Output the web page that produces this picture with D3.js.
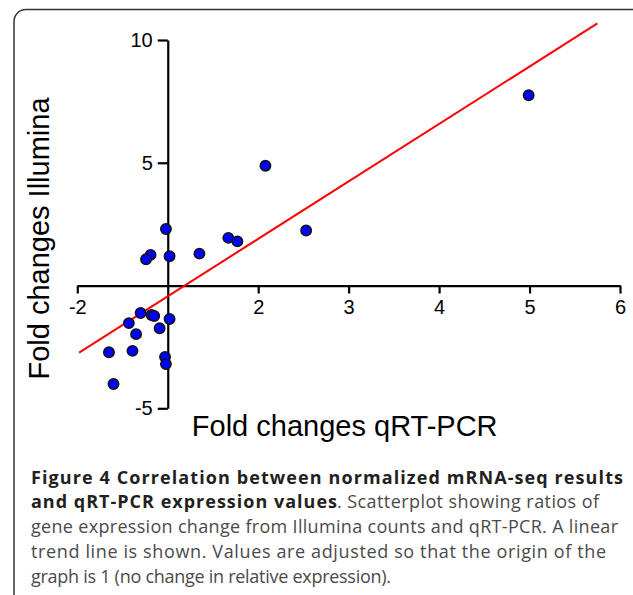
<!DOCTYPE html>
<html>
<head>
<meta charset="utf-8">
<script src="https://cdn.jsdelivr.net/npm/d3@7"></script>
<style>
  html, body { margin: 0; padding: 0; background: #fff; }
  svg { display: block; }
</style>
</head>
<body>
<svg id="chart" width="633" height="595"></svg>
<script>
// ---- Data (adjusted values; origin = no change) ----
const qrtpcr   = [-0.02, 1.53, 0.67, 0.77, -0.19, -0.24, 0.02, 0.35, 1.08, 3.99,
                  -0.30, -0.18, -0.15, -0.43, 0.02, -0.09, -0.35, -0.65, -0.39, -0.03, -0.02, -0.60];
const illumina = [2.30, 2.24, 1.94, 1.80, 1.25, 1.07, 1.19, 1.30, 4.88, 7.75,
                  -1.12, -1.20, -1.24, -1.53, -1.36, -1.74, -1.98, -2.72, -2.66, -2.91, -3.20, -4.01];
const trendX = [-0.98, 4.75];
const trendSlope = 2.34;
const trendIntercept = -0.44;
const xTickValues = [-1, 1, 2, 3, 4, 5];
const xTickLabels = ["-2", "2", "3", "4", "5", "6"];
const yTickValues = [10, 5, -5];
const yTickLabels = ["10", "5", "-5"];
const xTitle = "Fold changes qRT-PCR";
const yTitle = "Fold changes Illumina";
const captionLines = [
  [{t: "Figure 4 Correlation between normalized mRNA-seq results", b: true, w: 592}],
  [{t: "and qRT-PCR expression values", b: true, w: 306}, {t: ". Scatterplot showing ratios of", b: false, w: 262}],
  [{t: "gene expression change from Illumina counts and qRT-PCR. A linear", b: false, w: 587}],
  [{t: "trend line is shown. Values are adjusted so that the origin of the", b: false, w: 575}],
  [{t: "graph is 1 (no change in relative expression).", b: false, w: 360}]
];

const svg = d3.select("#chart");

// frame
svg.append("rect")
  .attr("x", 14).attr("y", 9.5)
  .attr("width", 640).attr("height", 620)
  .attr("rx", 12).attr("ry", 12)
  .attr("fill", "none").attr("stroke", "#333").attr("stroke-width", 1.5);

const x = d3.scaleLinear().domain([-1, 5]).range([77.3, 620]);
const y = d3.scaleLinear().domain([-5, 10]).range([408.3, 40]);

// x axis
const xAxis = d3.axisBottom(x)
  .tickValues(xTickValues)
  .tickFormat((d, i) => xTickLabels[i])
  .tickSize(8).tickSizeOuter(0).tickPadding(6);
const gx = svg.append("g").attr("transform", `translate(0,${y(0)})`).call(xAxis);

// y axis
const yAxis = d3.axisLeft(y)
  .tickValues(yTickValues)
  .tickFormat((d, i) => yTickLabels[i])
  .tickSize(10).tickSizeOuter(0).tickPadding(5);
const gy = svg.append("g").attr("transform", `translate(${x(0)},0)`).call(yAxis);

[gx, gy].forEach(g => {
  g.select(".domain").attr("stroke", "#000").attr("stroke-width", 2.2);
  g.selectAll(".tick line").attr("stroke", "#000").attr("stroke-width", 2.2);
  g.selectAll(".tick text")
    .attr("fill", "#000")
    .style("font-family", "'Liberation Sans', Arial, sans-serif")
    .style("font-size", "20px");
});

// trend line
const line = d3.line().x(d => x(d)).y(d => y(trendSlope * d + trendIntercept));
svg.append("path")
  .datum(trendX)
  .attr("d", line)
  .attr("fill", "none")
  .attr("stroke", "#ff0000")
  .attr("stroke-width", 2);

// points
const pts = qrtpcr.map((v, i) => ({x: v, y: illumina[i]}));
svg.append("g").selectAll("circle")
  .data(pts).join("circle")
  .attr("cx", d => x(d.x))
  .attr("cy", d => y(d.y))
  .attr("r", 5.2)
  .attr("fill", "#0000ff")
  .attr("stroke", "#111")
  .attr("stroke-width", 1.5);

// axis titles
svg.append("text")
  .attr("x", 344.7).attr("y", 436)
  .attr("text-anchor", "middle")
  .style("font-family", "'Liberation Sans', Arial, sans-serif")
  .style("font-size", "29px")
  .attr("fill", "#000")
  .text(xTitle);

svg.append("text")
  .attr("transform", "translate(49,238.5) rotate(-90)")
  .attr("text-anchor", "middle")
  .style("font-family", "'Liberation Sans', Arial, sans-serif")
  .style("font-size", "29px")
  .attr("fill", "#000")
  .text(yTitle);

// caption
const cap = svg.append("g")
  .style("font-family", "'Open Sans', 'Noto Sans', sans-serif")
  .style("font-size", "18px");
captionLines.forEach((parts, i) => {
  let cx = 31;
  parts.forEach(p => {
    cap.append("text")
      .attr("x", cx)
      .attr("y", 483.5 + i * 24.8)
      .attr("font-weight", p.b ? "bold" : "normal")
      .attr("fill", p.b ? "#231f20" : "#4a4a4a")
      .attr("textLength", p.w)
      .attr("lengthAdjust", "spacing")
      .text(p.t);
    cx += p.w;
  });
});
</script>
</body>
</html>
